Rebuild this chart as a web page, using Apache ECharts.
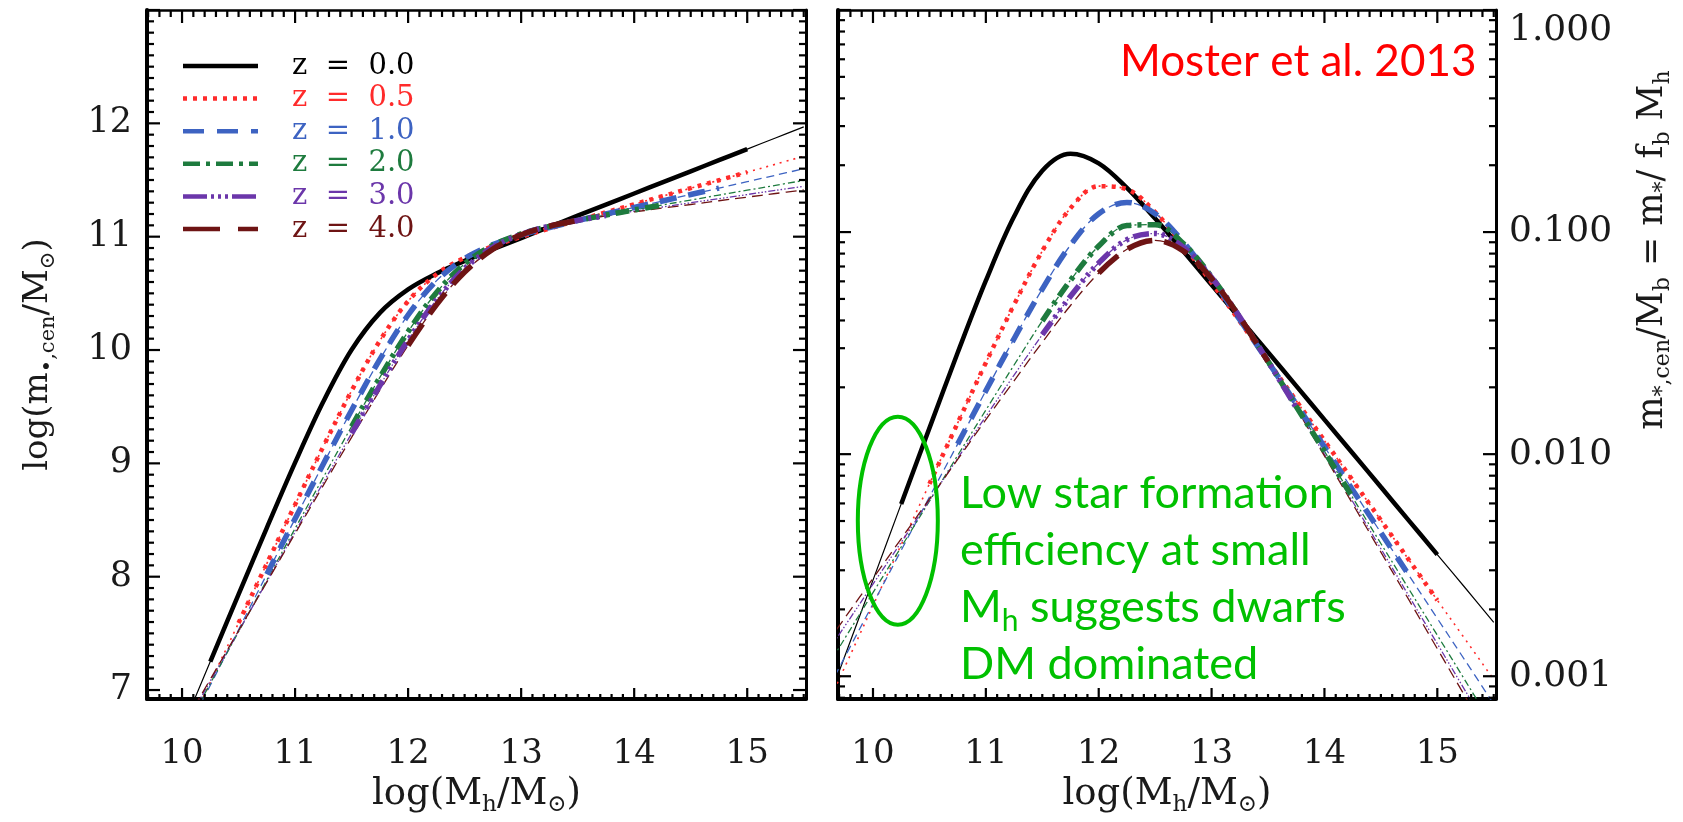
<!DOCTYPE html>
<html>
<head>
<meta charset="utf-8">
<script src="https://cdn.jsdelivr.net/npm/echarts@6/dist/echarts.min.js"></script>
<style>
html,body{margin:0;padding:0;background:#fff;}
#chart{width:1683px;height:822px;}
</style>
</head>
<body>
<div id="chart"></div>
<script>
// ---------------- DATA ----------------
const logMh = [9.5, 9.75, 10.0, 10.25, 10.5, 10.75, 11.0, 11.25, 11.5, 11.75, 12.0, 12.25, 12.5, 12.75, 13.0, 13.25, 13.5, 13.75, 14.0, 14.25, 14.5, 14.75, 15.0, 15.25, 15.5];
const redshiftLabels = ['0.0', '0.5', '1.0', '2.0', '3.0', '4.0'];

// left panel: log(m*,cen / Msun)
const logMstar_z00 = [5.470, 6.064, 6.658, 7.251, 7.844, 8.431, 9.006, 9.545, 10.002, 10.328, 10.535, 10.674, 10.786, 10.889, 10.988, 11.087, 11.185, 11.283, 11.381, 11.479, 11.577, 11.675, 11.773, 11.871, 11.969];
const logMstar_z05 = [5.492, 6.017, 6.542, 7.067, 7.592, 8.115, 8.636, 9.149, 9.640, 10.082, 10.431, 10.667, 10.815, 10.916, 10.998, 11.072, 11.144, 11.215, 11.286, 11.357, 11.428, 11.498, 11.569, 11.639, 11.710];
const logMstar_z10 = [5.570, 6.061, 6.551, 7.042, 7.532, 8.022, 8.511, 8.995, 9.469, 9.917, 10.309, 10.610, 10.807, 10.930, 11.014, 11.081, 11.142, 11.200, 11.258, 11.315, 11.372, 11.428, 11.485, 11.542, 11.599];
const logMstar_z20 = [5.689, 6.145, 6.601, 7.058, 7.514, 7.970, 8.425, 8.877, 9.325, 9.759, 10.162, 10.506, 10.760, 10.924, 11.024, 11.091, 11.144, 11.191, 11.236, 11.280, 11.323, 11.367, 11.410, 11.453, 11.496];
const logMstar_z30 = [5.762, 6.201, 6.640, 7.079, 7.518, 7.957, 8.395, 8.831, 9.264, 9.686, 10.087, 10.441, 10.719, 10.907, 11.021, 11.093, 11.144, 11.186, 11.225, 11.262, 11.299, 11.335, 11.372, 11.408, 11.444];
const logMstar_z40 = [5.808, 6.237, 6.666, 7.095, 7.523, 7.952, 8.380, 8.806, 9.229, 9.645, 10.041, 10.398, 10.688, 10.890, 11.016, 11.092, 11.143, 11.183, 11.218, 11.252, 11.284, 11.317, 11.349, 11.381, 11.413];

// right panel: m*,cen / (fb Mh)
const ratio_z00 = [0.000556, 0.00123, 0.00271, 0.00597, 0.0131, 0.0286, 0.0604, 0.1175, 0.189, 0.2254, 0.204, 0.158, 0.115, 0.0820, 0.0579, 0.0408, 0.0288, 0.0203, 0.0143, 0.0101, 0.00711, 0.00501, 0.00353, 0.00249, 0.00175];
const ratio_z05 = [0.000584, 0.00110, 0.00208, 0.00391, 0.00735, 0.0138, 0.0258, 0.0471, 0.0822, 0.128, 0.161, 0.156, 0.123, 0.0872, 0.0592, 0.0396, 0.0262, 0.0174, 0.0115, 0.00762, 0.00504, 0.00333, 0.00220, 0.00146, 0.000966];
const ratio_z10 = [0.000699, 0.00122, 0.00212, 0.00369, 0.00641, 0.0111, 0.0193, 0.0331, 0.0554, 0.0874, 0.121, 0.136, 0.121, 0.0901, 0.0614, 0.0403, 0.0261, 0.0168, 0.0108, 0.00690, 0.00443, 0.00284, 0.00182, 0.00117, 0.000748];
const ratio_z20 = [0.000919, 0.00148, 0.00238, 0.00382, 0.00614, 0.00986, 0.0158, 0.0252, 0.0398, 0.0607, 0.0865, 0.107, 0.108, 0.0888, 0.0629, 0.0413, 0.0262, 0.0164, 0.0103, 0.00637, 0.00396, 0.00246, 0.00153, 0.000951, 0.000590];
const ratio_z30 = [0.00109, 0.00168, 0.00260, 0.00401, 0.00620, 0.00958, 0.0148, 0.0227, 0.0345, 0.0514, 0.0726, 0.0924, 0.0985, 0.0854, 0.0625, 0.0414, 0.0262, 0.0162, 0.00998, 0.00612, 0.00375, 0.00229, 0.00140, 0.000856, 0.000523];
const ratio_z40 = [0.00121, 0.00183, 0.00276, 0.00416, 0.00628, 0.00947, 0.0143, 0.0214, 0.0319, 0.0467, 0.0654, 0.0837, 0.0918, 0.0822, 0.0617, 0.0413, 0.0261, 0.0161, 0.00983, 0.00597, 0.00362, 0.00220, 0.00133, 0.000805, 0.000488];

// mass range where each curve is drawn thick
const thickRange_z00 = [10.25, 15.0];
const thickRange_z05 = [10.5, 15.0];
const thickRange_z10 = [10.75, 14.75];
const thickRange_z20 = [11.5, 14.25];
const thickRange_z30 = [11.5, 13.75];
const thickRange_z40 = [12.0, 13.5];

const xTickValues = [10, 11, 12, 13, 14, 15];
const yTickValuesLeft = [7, 8, 9, 10, 11, 12];
const yTickValuesRight = [0.001, 0.01, 0.1, 1];

// ---------------- STYLE / LAYOUT ----------------
const logMstarSets = [logMstar_z00, logMstar_z05, logMstar_z10, logMstar_z20, logMstar_z30, logMstar_z40];
const ratioSets = [ratio_z00, ratio_z05, ratio_z10, ratio_z20, ratio_z30, ratio_z40];
const thickRanges = [thickRange_z00, thickRange_z05, thickRange_z10, thickRange_z20, thickRange_z30, thickRange_z40];

const looks = [
  {color: '#000000', thick: {width: 4.5, type: 'solid'}, thin: {width: 1.2, type: 'solid'}, legend: []},
  {color: '#ff2b2b', thick: {width: 4.5, type: [4, 6]}, thin: {width: 1.6, type: [2, 5]}, legend: [4, 6]},
  {color: '#3d63c2', thick: {width: 5.5, type: [17, 12]}, thin: {width: 1.3, type: [8, 5]}, legend: [21, 13]},
  {color: '#1e7b3e', thick: {width: 5.5, type: [14, 6, 4, 6]}, thin: {width: 1.3, type: [7, 3, 2, 3]}, legend: [17, 6, 4, 6]},
  {color: '#6b36aa', thick: {width: 5.5, type: [16, 5, 3, 5, 3, 5, 3, 5]}, thin: {width: 1.3, type: [7, 2, 1.5, 2, 1.5, 2, 1.5, 2]}, legend: [24, 4, 3, 4, 3, 4, 3, 4]},
  {color: '#6e1414', thick: {width: 5.5, type: [26, 12]}, thin: {width: 1.3, type: [11, 6]}, legend: [37, 18]}
];

const SERIF = "'DejaVu Serif', serif";
const SANS = "Lato, 'Open Sans', sans-serif";
const TXT = '#1a1a1a';
const G = [{left: 147, top: 10, width: 659, height: 691}, {left: 838, top: 10, width: 658, height: 691}];
const XMIN = 9.69, XMAX = 15.52, YMIN_L = 6.92, YMAX_L = 13.0, YMIN_R = 0.000789, YMAX_R = 1.0;

function richFor(n, s, drop, key) {
  const c = key || 'color';
  const a = {fontFamily: SERIF, fontSize: n, lineHeight: n + drop};
  const b = {fontFamily: SERIF, fontSize: s, lineHeight: s, verticalAlign: 'bottom'};
  a[c] = TXT; b[c] = TXT;
  return {n: a, s: b};
}

function xAxis(gi, pos, withLabels) {
  return {
    type: 'value', gridIndex: gi, position: pos, min: XMIN, max: XMAX,
    axisLine: {show: true, onZero: false, lineStyle: {color: '#000', width: pos === 'bottom' ? 4 : 2.5}},
    axisTick: {show: false}, minorTick: {show: false}, splitLine: {show: false},
    axisLabel: withLabels ? {
      show: true, customValues: xTickValues, margin: 38, fontFamily: SERIF, fontSize: 34, color: TXT,
      formatter: v => String(Math.round(v))
    } : {show: false},
    name: withLabels ? '{n|log(M}{s|h}{n|/M}{s|\u2299}{n|)}' : '',
    nameLocation: 'middle', nameGap: 72,
    nameTextStyle: {rich: richFor(37, 23, 8)}
  };
}

const option = {
  animation: false,
  backgroundColor: '#ffffff',
  grid: G.map(g => Object.assign({containLabel: false}, g)),
  xAxis: [xAxis(0, 'bottom', true), xAxis(0, 'top', false), xAxis(1, 'bottom', true), xAxis(1, 'top', false)],
  yAxis: [
    {
      type: 'value', gridIndex: 0, position: 'left', min: YMIN_L, max: YMAX_L,
      axisLine: {show: true, onZero: false, lineStyle: {color: '#000', width: 4}},
      axisTick: {show: false}, splitLine: {show: false},
      axisLabel: {show: true, customValues: yTickValuesLeft, margin: 15, fontFamily: SERIF, fontSize: 35, color: TXT,
        formatter: v => String(Math.round(v))},
      name: '{n|log(m}{s|\u2022,cen}{n|/M}{s|\u2299}{n|)}', nameLocation: 'middle', nameRotate: 90, nameGap: 88,
      nameTextStyle: {rich: richFor(34, 21, 7)}
    },
    {
      type: 'value', gridIndex: 0, position: 'right', min: YMIN_L, max: YMAX_L,
      axisLine: {show: true, onZero: false, lineStyle: {color: '#000', width: 3}},
      axisTick: {show: false}, splitLine: {show: false}, axisLabel: {show: false}
    },
    {
      type: 'log', logBase: 10, gridIndex: 1, position: 'left', min: YMIN_R, max: YMAX_R,
      axisLine: {show: true, onZero: false, lineStyle: {color: '#000', width: 4}},
      axisTick: {show: false}, splitLine: {show: false}, axisLabel: {show: false}
    },
    {
      type: 'log', logBase: 10, gridIndex: 1, position: 'right', min: YMIN_R, max: YMAX_R,
      axisLine: {show: true, onZero: false, lineStyle: {color: '#000', width: 3}},
      axisTick: {show: false}, splitLine: {show: false},
      axisLabel: {show: true, customValues: yTickValuesRight, margin: 13, fontFamily: SERIF, fontSize: 36, color: TXT,
        formatter: v => (Math.abs(v - 1) < 1e-9 ? '{t|1.000}' : v.toFixed(3)),
        rich: {t: {fontFamily: SERIF, fontSize: 36, color: TXT, padding: [42, 0, 0, 0]}}}
    }
  ],
  series: []
};

function makeSeries(name, ys, range, xi, yi, look, thick) {
  const data = [];
  for (let i = 0; i < logMh.length; i++) {
    if (!range || (logMh[i] >= range[0] - 1e-9 && logMh[i] <= range[1] + 1e-9)) data.push([logMh[i], ys[i]]);
  }
  const st = thick ? look.thick : look.thin;
  return {
    type: 'line', name: name, xAxisIndex: xi, yAxisIndex: yi, data: data,
    symbol: 'none', showSymbol: false, smooth: 0.35, clip: true, silent: true,
    z: thick ? 3 : 2,
    lineStyle: {color: look.color, width: st.width, type: st.type, cap: 'butt'},
    itemStyle: {color: look.color}
  };
}

// thin full-range curves
for (let i = 0; i < 6; i++) {
  option.series.push(makeSeries('z = ' + redshiftLabels[i] + ' (L)', logMstarSets[i], null, 0, 0, looks[i], false));
  option.series.push(makeSeries('z = ' + redshiftLabels[i] + ' (R)', ratioSets[i], null, 2, 2, looks[i], false));
}
// thick constrained-range curves
for (let i = 0; i < 6; i++) {
  option.series.push(makeSeries('z = ' + redshiftLabels[i] + ' (L, thick)', logMstarSets[i], thickRanges[i], 0, 0, looks[i], true));
  option.series.push(makeSeries('z = ' + redshiftLabels[i] + ' (R, thick)', ratioSets[i], thickRanges[i], 2, 2, looks[i], true));
}

const chart = echarts.init(document.getElementById('chart'), null, {renderer: 'canvas'});
chart.setOption(option);

// ---------------- frame ticks, legend, annotations ----------------
const els = [];
function seg(x1, y1, x2, y2, w) {
  els.push({type: 'line', silent: true, z: 50, shape: {x1: x1, y1: y1, x2: x2, y2: y2}, style: {stroke: '#000', lineWidth: w}});
}
for (let p = 0; p < 2; p++) {
  const g = G[p];
  const L = g.left, R = g.left + g.width, T = g.top, B = g.top + g.height;
  const xi = p === 0 ? 0 : 2;
  for (let k = 97; k <= 155; k++) {
    const x = chart.convertToPixel({xAxisIndex: xi}, k / 10);
    const len = (k % 10 === 0) ? 13 : 7;
    seg(x, B, x, B - len, 2.2);
    seg(x, T, x, T + len, 2.2);
  }
  if (p === 0) {
    for (let k = 70; k <= 130; k++) {
      const y = chart.convertToPixel({yAxisIndex: 0}, k / 10);
      const len = (k % 10 === 0) ? 13 : 7;
      seg(L, y, L + len, y, 2.2);
      seg(R, y, R - len, y, 2.2);
    }
  } else {
    for (let d = -4; d <= 0; d++) {
      for (let m = 1; m <= 9; m++) {
        const v = m * Math.pow(10, d);
        if (v < YMIN_R || v > YMAX_R * 1.0001) continue;
        const y = chart.convertToPixel({yAxisIndex: 2}, v);
        const len = (m === 1) ? 13 : 7;
        seg(L, y, L + len, y, 2.2);
        seg(R, y, R - len, y, 2.2);
      }
    }
  }
}

// legend (line samples + labels), top-left of the left panel
for (let i = 0; i < 6; i++) {
  const y = 66 + 32.6 * i;
  els.push({type: 'line', silent: true, z: 55, shape: {x1: 183, y1: y, x2: 258, y2: y},
    style: {stroke: looks[i].color, lineWidth: 4.5, lineDash: looks[i].legend.length ? looks[i].legend : null}});
  els.push({type: 'text', silent: true, z: 55, style: {x: 292, y: y, text: 'z  =  ' + redshiftLabels[i],
    fill: looks[i].color, font: '29px ' + SERIF, align: 'left', verticalAlign: 'middle'}});
}

// right-hand axis title (rotated, reads bottom to top)
els.push({type: 'text', silent: true, z: 55, x: 1653, y: 250, rotation: Math.PI / 2, style: {
  text: '{n|m}{s|*,cen}{n|/M}{s|b}{n| = m}{s|*}{n|/ f}{s|b}{n| M}{s|h}',
  align: 'center', verticalAlign: 'middle', rich: richFor(35, 22, 8, 'fill')}});

// annotation ellipse (centred in data coordinates of the right panel)
const ec = chart.convertToPixel({seriesIndex: 1}, [10.22, 0.00502]);
els.push({type: 'ellipse', silent: true, z: 60, shape: {cx: ec[0], cy: ec[1], rx: 40, ry: 104},
  style: {fill: 'none', stroke: '#00c000', lineWidth: 4}});

els.push({type: 'text', silent: true, z: 60, style: {
  x: 1120, y: 62, text: 'Moster et al. 2013', fill: '#ff0000',
  font: '44px ' + SANS, align: 'left', verticalAlign: 'middle'}});

els.push({type: 'text', silent: true, z: 60, style: {
  x: 960, y: 465, text: '{g|Low star formation}\n{g|efficiency at small}\n{g|M}{s|h}{g| suggests dwarfs}\n{g|DM dominated}',
  align: 'left', verticalAlign: 'top',
  rich: {
    g: {fontFamily: SANS, fontSize: 45, fill: '#00c000', lineHeight: 57},
    s: {fontFamily: SANS, fontSize: 30, fill: '#00c000', lineHeight: 30, verticalAlign: 'bottom'}
  }}});

chart.setOption({graphic: {elements: els}});
</script>
</body>
</html>
